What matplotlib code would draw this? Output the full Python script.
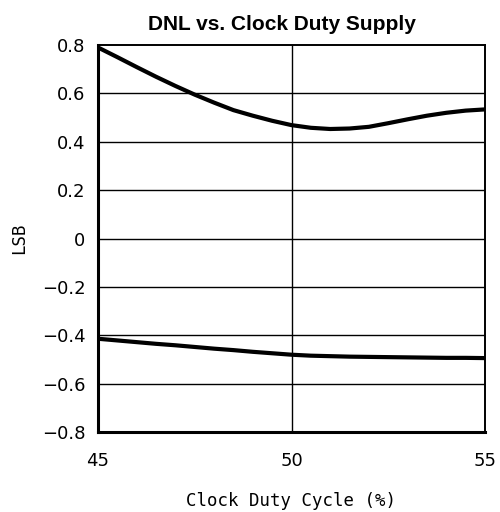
import matplotlib
import matplotlib.pyplot as plt

matplotlib.use("Agg")

# Clock duty cycle (%) and DNL limits (LSB)
duty_cycle = [45, 45.5, 46, 46.5, 47, 47.5, 48, 48.5, 49, 49.5, 50,
              50.5, 51, 51.5, 52, 52.5, 53, 53.5, 54, 54.5, 55]
dnl_max = [0.79, 0.75, 0.709, 0.669, 0.631, 0.595, 0.562, 0.531, 0.508, 0.487, 0.469,
           0.458, 0.453, 0.455, 0.462, 0.477, 0.493, 0.508, 0.52, 0.529, 0.534]
dnl_min = [-0.414, -0.421, -0.428, -0.435, -0.441, -0.448, -0.455, -0.461, -0.468, -0.474, -0.48,
           -0.484, -0.486, -0.488, -0.489, -0.49, -0.491, -0.492, -0.493, -0.493, -0.494]

x_ticks = [45, 50, 55]
y_ticks = [-0.8, -0.6, -0.4, -0.2, 0, 0.2, 0.4, 0.6, 0.8]
y_tick_labels = ['\u22120.8', '\u22120.6', '\u22120.4', '\u22120.2', '0', '0.2', '0.4', '0.6', '0.8']

fig = plt.figure(figsize=(5, 5.12), dpi=100)
ax = fig.add_axes([0.196, 0.156, 0.774, 0.756])

# Grid: horizontal at every tick, vertical only at 50
for y in y_ticks[1:-1]:
    ax.axhline(y, color='black', lw=1.0, zorder=1)
ax.axvline(50, color='black', lw=1.0, zorder=1)

ax.plot(duty_cycle, dnl_max, color='black', lw=3.0, solid_joinstyle='round',
        solid_capstyle='butt', zorder=3)
ax.plot(duty_cycle, dnl_min, color='black', lw=3.0, solid_joinstyle='round',
        solid_capstyle='butt', zorder=3)

ax.set_xlim(45, 55)
ax.set_ylim(-0.8, 0.8)
ax.set_xticks(x_ticks)
ax.set_yticks(y_ticks)
ax.set_yticklabels(y_tick_labels)
ax.tick_params(length=0, labelsize=13)
ax.tick_params(axis='x', pad=14)
ax.tick_params(axis='y', pad=9)
for lbl in ax.get_xticklabels() + ax.get_yticklabels():
    lbl.set_family('DejaVu Sans')

ax.spines['left'].set_linewidth(2.2)
ax.spines['bottom'].set_linewidth(2.2)
ax.spines['top'].set_linewidth(1.4)
ax.spines['right'].set_linewidth(1.4)

ax.set_title('DNL vs. Clock Duty Supply', fontsize=15, fontweight='bold',
             family='Liberation Sans', pad=11, x=0.474)
ax.set_xlabel('Clock Duty Cycle (%)', fontsize=12.5, family='DejaVu Sans Mono', labelpad=16)
ax.set_ylabel('LSB', fontsize=12.5, family='DejaVu Sans Mono', labelpad=10)

plt.savefig('out.png', dpi=100)
